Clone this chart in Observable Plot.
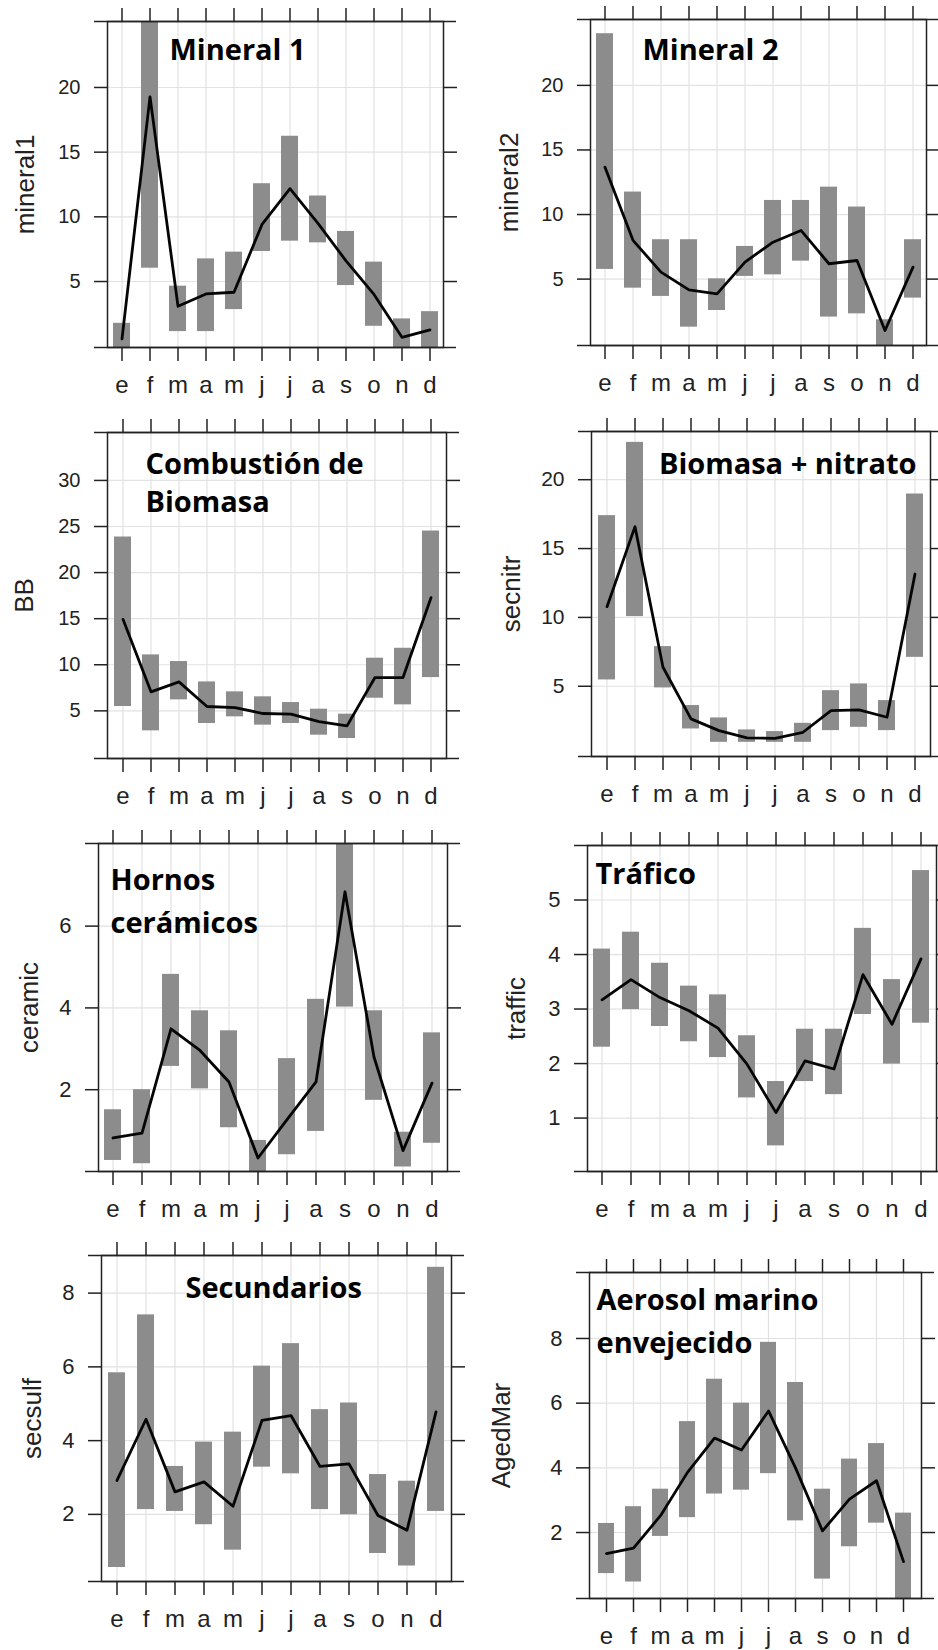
<!DOCTYPE html>
<html>
<head>
<meta charset="utf-8">
<script src="https://cdn.jsdelivr.net/npm/d3@7"></script>
<script src="https://cdn.jsdelivr.net/npm/@observablehq/plot@0.6"></script>
<style>
  html, body { margin: 0; padding: 0; background: #fff; }
  #root { position: relative; width: 938px; height: 1650px; overflow: hidden; background: #fff; }
  .cell { position: absolute; }
</style>
</head>
<body>
<div id="root"></div>
<script>
// ---- Data ----
const months = ["e","f","m","a","m","j","j","a","s","o","n","d"];

const mineral1Mean = [0.56,19.28,3.09,4.04,4.17,9.41,12.18,9.5,6.6,4.0,0.69,1.26];
const mineral1Lo   = [-0.4,6.03,1.13,1.13,2.83,7.32,8.12,7.99,4.69,1.54,-0.3,-0.2];
const mineral1Hi   = [1.77,32.0,4.64,6.75,7.27,12.56,16.23,11.61,8.87,6.5,2.11,2.67];

const mineral2Mean = [13.67,8.0,5.54,4.17,3.86,6.32,7.86,8.77,6.19,6.44,1.02,5.93];
const mineral2Lo   = [5.75,4.3,3.66,1.28,2.57,5.21,5.33,6.39,2.06,2.31,-0.3,3.53];
const mineral2Hi   = [24.0,11.74,8.05,8.05,5.02,7.53,11.09,11.09,12.12,10.58,1.85,8.05];

const bbMean = [14.93,7.06,8.14,5.47,5.36,4.71,4.64,3.84,3.37,8.61,8.61,17.28];
const bbLo   = [5.47,2.83,6.19,3.63,4.35,3.45,3.63,2.36,2.0,6.37,5.65,8.61];
const bbHi   = [23.86,11.07,10.35,8.14,7.06,6.52,5.9,5.18,4.64,10.71,11.79,24.51];

const secnitrMean = [10.78,16.59,6.38,2.63,1.78,1.25,1.22,1.66,3.23,3.28,2.75,13.15];
const secnitrLo   = [5.46,10.06,4.88,1.9,0.93,0.93,0.93,0.93,1.78,2.02,1.78,7.1];
const secnitrHi   = [17.39,22.71,7.88,3.6,2.7,1.83,1.71,2.31,4.68,5.17,3.96,18.96];

const ceramicMean = [0.82,0.94,3.49,2.96,2.19,0.33,1.27,2.19,6.84,2.8,0.51,2.16];
const ceramicLo   = [0.27,0.19,2.57,2.02,1.07,-0.1,0.41,0.98,4.02,1.74,0.11,0.69];
const ceramicHi   = [1.51,2.0,4.82,3.93,3.44,0.76,2.76,4.21,9.6,3.93,0.96,3.39];

const trafficMean = [3.17,3.54,3.21,2.97,2.65,1.99,1.1,2.05,1.9,3.63,2.72,3.92];
const trafficLo   = [2.3,2.99,2.68,2.4,2.11,1.37,0.49,1.67,1.43,2.9,1.99,2.74];
const trafficHi   = [4.1,4.41,3.84,3.42,3.26,2.51,1.67,2.63,2.63,4.48,3.54,5.54];

const secsulfMean = [2.92,4.58,2.61,2.88,2.22,4.55,4.68,3.3,3.37,1.97,1.57,4.78];
const secsulfLo   = [0.56,2.13,2.08,1.72,1.03,3.28,3.1,2.13,1.99,0.94,0.6,2.08];
const secsulfHi   = [5.84,7.41,3.3,3.96,4.23,6.02,6.63,4.84,5.02,3.08,2.9,8.7];

const agedMarMean = [1.35,1.52,2.52,3.86,4.92,4.55,5.76,4.0,2.05,3.03,3.6,1.1];
const agedMarLo   = [0.73,0.47,1.88,2.46,3.19,3.31,3.82,2.36,0.56,1.56,2.29,-0.3];
const agedMarHi   = [2.28,2.8,3.34,5.43,6.74,6.0,7.88,6.64,3.34,4.27,4.75,2.6];

const titleLines = [["Mineral 1"],["Mineral 2"],["Combustión de","Biomasa"],["Biomasa + nitrato"],
                    ["Hornos","cerámicos"],["Tráfico"],["Secundarios"],["Aerosol marino","envejecido"]];
const yLabels = ["mineral1","mineral2","BB","secnitr","ceramic","traffic","secsulf","AgedMar"];
const yDomains = [[-0.1,25.1],[-0.14,25.1],[-0.17,35.2],[-0.1,23.5],[0.0,8.02],[0.02,6.0],[0.18,9.02],[-0.04,10.04]];
const yTicks = [[5,10,15,20],[5,10,15,20],[5,10,15,20,25,30],[5,10,15,20],[2,4,6],[1,2,3,4,5],[2,4,6,8],[2,4,6,8]];

const series = [
  [mineral1Mean, mineral1Lo, mineral1Hi],
  [mineral2Mean, mineral2Lo, mineral2Hi],
  [bbMean, bbLo, bbHi],
  [secnitrMean, secnitrLo, secnitrHi],
  [ceramicMean, ceramicLo, ceramicHi],
  [trafficMean, trafficLo, trafficHi],
  [secsulfMean, secsulfLo, secsulfHi],
  [agedMarMean, agedMarLo, agedMarHi]
];

// ---- Layout (cell position, margins, text placement) ----
const layout = [
  {left:0,   top:0,    w:469, h:400, ml:107, mr:26, mt:21, mb:53, tAnchor:"top-left",  tdx:62,  tdy:17.5, gap:0,  ydx:-82, tf:20},
  {left:469, top:0,    w:469, h:400, ml:121, mr:12, mt:19, mb:55, tAnchor:"top-left",  tdx:52,  tdy:19.5, gap:0,  ydx:-81, tf:20},
  {left:0,   top:400,  w:469, h:415, ml:107, mr:23, mt:32, mb:57, tAnchor:"top-left",  tdx:38,  tdy:21,   gap:38, ydx:-83, tf:20},
  {left:469, top:400,  w:469, h:415, ml:122, mr:8,  mt:31, mb:59, tAnchor:"top-right", tdx:-14, tdy:22,   gap:0,  ydx:-80, tf:21},
  {left:0,   top:800,  w:469, h:425, ml:98,  mr:22, mt:43, mb:54, tAnchor:"top-left",  tdx:12,  tdy:25.5, gap:43, ydx:-69, tf:22},
  {left:469, top:800,  w:469, h:425, ml:118, mr:2,  mt:45, mb:54, tAnchor:"top-left",  tdx:8,   tdy:18,   gap:0,  ydx:-71, tf:22},
  {left:0,   top:1220, w:469, h:430, ml:101, mr:18, mt:35, mb:69, tAnchor:"top-left",  tdx:84,  tdy:21.5, gap:0,  ydx:-69, tf:22},
  {left:469, top:1220, w:469, h:430, ml:120, mr:17, mt:52, mb:52, tAnchor:"top-left",  tdx:7,   tdy:17,   gap:43, ydx:-88, tf:22}
];

const ink = "#222";
const root = document.getElementById("root");

series.forEach(([mean, lo, hi], k) => {
  const L = layout[k];
  const rows = months.map((m, i) => ({i, mean: mean[i], lo: lo[i], hi: hi[i]}));
  const titleMarks = titleLines[k].map((line, j) =>
    Plot.text([line], {frameAnchor: L.tAnchor, text: d => d, dx: L.tdx, dy: L.tdy + j * L.gap,
      textAnchor: L.tAnchor === "top-right" ? "end" : "start", lineAnchor: "top",
      fontSize: 29, fontWeight: 700, fill: "#000",
      fontFamily: "'Open Sans', 'Noto Sans', sans-serif"}));
  const chart = Plot.plot({
    width: L.w, height: L.h,
    marginLeft: L.ml, marginRight: L.mr, marginTop: L.mt, marginBottom: L.mb,
    style: {fontFamily: "'Liberation Sans', Arial, sans-serif", background: "transparent", color: ink},
    x: {type: "band", domain: d3.range(12), paddingInner: 0.4, paddingOuter: 0.2, axis: null},
    y: {domain: yDomains[k], axis: null},
    marks: [
      Plot.gridX({stroke: "#e2e2e2", strokeOpacity: 1, strokeWidth: 1.2}),
      Plot.gridY(yTicks[k], {stroke: "#e2e2e2", strokeOpacity: 1, strokeWidth: 1.2}),
      Plot.barY(rows, {x: "i", y1: "lo", y2: "hi", fill: "#8c8c8c", clip: true}),
      Plot.line(rows, {x: "i", y: "mean", stroke: "#050505", strokeWidth: 2.8, strokeLinejoin: "round", clip: true}),
      Plot.frame({stroke: ink, strokeWidth: 1.5}),
      Plot.ruleY(yDomains[k], {stroke: ink, strokeWidth: 1.5, insetLeft: -13, insetRight: -13}),
      Plot.axisX({anchor: "top", tickSize: 14, tickFormat: () => "", label: null, stroke: ink, strokeWidth: 1.5}),
      Plot.axisX({anchor: "bottom", tickSize: 14, tickPadding: 14, tickFormat: i => months[i], label: null,
                  fontSize: 24, fill: ink, stroke: ink, strokeWidth: 1.5}),
      Plot.axisY(yTicks[k], {anchor: "left", tickSize: 13, tickPadding: 14, label: null, tickFormat: d => String(d),
                  fontSize: L.tf, fill: ink, stroke: ink, strokeWidth: 1.5}),
      Plot.axisY(yTicks[k], {anchor: "right", tickSize: 13, tickFormat: () => "", label: null, stroke: ink, strokeWidth: 1.5}),
      Plot.text([yLabels[k]], {frameAnchor: "left", text: d => d, rotate: -90, dx: L.ydx,
                  fontSize: 26, fill: ink, textAnchor: "middle", lineAnchor: "middle"}),
      ...titleMarks
    ]
  });
  const cell = document.createElement("div");
  cell.className = "cell";
  cell.style.left = L.left + "px";
  cell.style.top = L.top + "px";
  cell.style.width = L.w + "px";
  cell.style.height = L.h + "px";
  cell.appendChild(chart);
  root.appendChild(cell);
});
</script>
</body>
</html>
